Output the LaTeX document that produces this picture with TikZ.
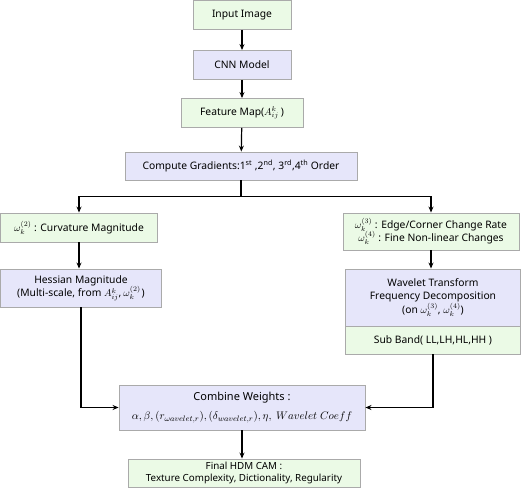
\documentclass[tikz,border=0pt]{standalone}
\usepackage{amsmath}
\usepackage{fontspec}
\setmainfont{Noto Sans}
\usetikzlibrary{arrows.meta}

\definecolor{lightgreen}{RGB}{235,250,230}
\definecolor{lavender}{RGB}{230,230,250}
\definecolor{edgegray}{RGB}{170,170,170}

\tikzset{
  greenbox/.style={draw=edgegray, fill=lightgreen, line width=.9pt, align=center, inner sep=2pt},
  bluebox/.style={draw=edgegray, fill=lavender, line width=.9pt, align=center, inner sep=2pt},
  arr/.style={-{Stealth[length=6pt,width=5pt]}, line width=1.2pt}
}

\begin{document}
\begin{tikzpicture}[x=1pt,y=-1pt,font=\fontsize{10.3}{13.5}\selectfont]
  \useasboundingbox (0,0) rectangle (522,497);

  % main column
  \node[greenbox, minimum width=98pt, minimum height=29pt] (input) at (242,15) {Input Image};
  \node[bluebox, minimum width=98pt, minimum height=29pt] (cnn) at (242,65) {CNN Model};
  \node[greenbox, minimum width=122pt, minimum height=29pt] (fmap) at (242,113) {Feature Map($A^k_{ij}$\kern2pt)};
  \node[bluebox, minimum width=232pt, minimum height=28pt] (grad) at (241,166)
    {Compute Gradients:1\textsuperscript{st} ,2\textsuperscript{nd}, 3\textsuperscript{rd},4\textsuperscript{th} Order};

  % left branch
  \node[greenbox, minimum width=157pt, minimum height=29pt] (curv) at (79,227.5)
    {$\omega^{(2)}_k$ : Curvature Magnitude};
  \node[bluebox, minimum width=161pt, minimum height=38pt] (hess) at (81,288)
    {Hessian Magnitude\\(Multi-scale, from $A^k_{ij}$,\kern2pt$\omega^{(2)}_k$\kern1pt)};

  % right branch
  \node[greenbox, minimum width=176pt, minimum height=37pt] (rate) at (431,231.5)
    {$\omega^{(3)}_k$ : Edge/Corner Change Rate\\$\omega^{(4)}_k$ : Fine Non-linear Changes};
  \node[bluebox, minimum width=175pt, minimum height=57pt] (wave) at (433,297.5)
    {Wavelet Transform\\Frequency Decomposition\\(on $\omega^{(3)}_k$, $\omega^{(4)}_k$)};
  \node[greenbox, minimum width=175pt, minimum height=28pt] (sub) at (433,340)
    {Sub Band( LL,LH,HL,HH )};

  % merge
  \node[bluebox, minimum width=246pt, minimum height=45pt, font=\fontsize{11}{19}\selectfont] (comb) at (242,407.5)
    {Combine Weights :\\$\alpha,\beta,(r_{\omega avelet,r}),(\delta_{wavelet,r}),\eta,\ Wavelet\ Coeff$};
  \node[greenbox, minimum width=232pt, minimum height=28pt, font=\fontsize{9.8}{11.5}\selectfont] (final) at (244,473)
    {Final HDM CAM :\\Texture Complexity, Dictionality, Regularity};

  \draw[arr] (input) -- (cnn);
  \draw[arr] (cnn) -- (fmap);
  \draw[arr] (fmap) -- (grad);
  \draw[line width=1.2pt] (grad.south) -- ++(0,16) coordinate (split);
  \draw[arr] (split) -| (curv.north);
  \draw[arr] (split) -| (rate.north);
  \draw[arr] (curv) -- (curv |- hess.north);
  \draw[arr] (rate.south) -- (rate.south |- wave.north);
  \draw[arr] (hess.south) |- (comb.west);
  \draw[arr] (sub.south) |- (comb.east);
  \draw[arr] (comb) -- (comb |- final.north);
\end{tikzpicture}
\end{document}
